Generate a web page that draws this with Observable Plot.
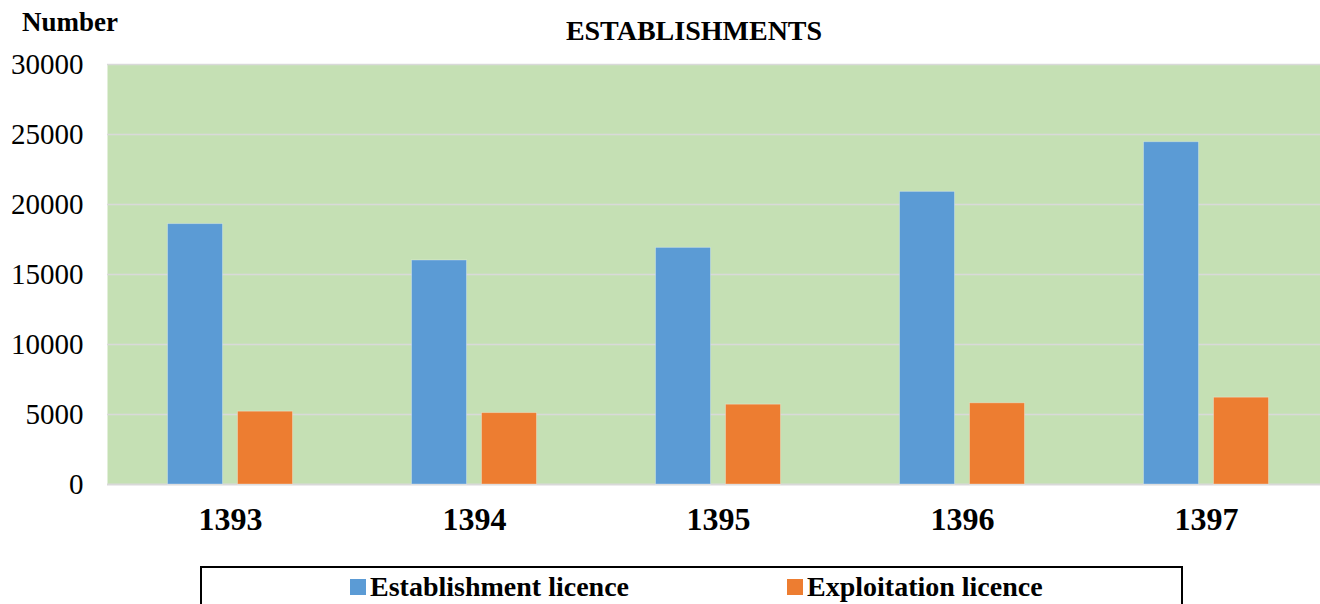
<!DOCTYPE html>
<html>
<head>
<meta charset="utf-8">
<script src="https://cdn.jsdelivr.net/npm/d3@7"></script>
<script src="https://cdn.jsdelivr.net/npm/@observablehq/plot@0.6"></script>
<style>
  html, body { margin: 0; padding: 0; background: #fff; width: 1320px; height: 604px; overflow: hidden; }
  body { font-family: "Liberation Serif", "Times New Roman", serif; color: #000; }
  #header { position: relative; height: 44px; }
  #number { position: absolute; left: 22px; top: 9px; font-size: 27px; font-weight: bold; line-height: 1; }
  #title { position: absolute; left: 694px; top: 17px; transform: translateX(-50%); font-size: 28px; font-weight: bold; line-height: 1; white-space: nowrap; }
  #legend { position: absolute; left: 200px; top: 566px; width: 983px; height: 60px; border: 2px solid #000; box-sizing: border-box; }
  .item { position: absolute; top: 5px; display: flex; align-items: center; font-size: 28px; font-weight: bold; line-height: 1; white-space: nowrap; }
  .sw { width: 16px; height: 16px; margin-right: 4px; }
  #chart svg text { font-family: "Liberation Serif", "Times New Roman", serif; }
</style>
</head>
<body>
<div id="header"><div id="number">Number</div><div id="title">ESTABLISHMENTS</div></div>
<div id="chart"></div>
<div id="legend"></div>
<script>
const years = ["1393", "1394", "1395", "1396", "1397"];
const establishment = [18600, 16000, 16900, 20900, 24450];
const exploitation = [5200, 5100, 5700, 5800, 6200];
const seriesNames = ["Establishment licence", "Exploitation licence"];
const seriesColors = ["#5B9BD5", "#ED7D31"];
const yTicks = [0, 5000, 10000, 15000, 20000, 25000, 30000];

const estData = years.map((yr, i) => ({year: yr, series: seriesNames[0], value: establishment[i]}));
const expData = years.map((yr, i) => ({year: yr, series: seriesNames[1], value: exploitation[i]}));

const serif = "'Liberation Serif', 'Times New Roman', serif";

const chart = Plot.plot({
  width: 1320,
  height: 516,
  marginLeft: 107,
  marginRight: -8,
  marginTop: 20,
  marginBottom: 76,
  style: {fontFamily: serif, background: "transparent", color: "#000", overflow: "visible"},
  x: {domain: years, padding: 0, label: null},
  y: {domain: [0, 30000], label: null},
  color: {domain: seriesNames, range: seriesColors},
  marks: [
    Plot.frame({fill: "#C5E0B4", stroke: null}),
    Plot.ruleY(yTicks.filter(d => d > 0), {stroke: "#D9D9D9", strokeWidth: 1.5}),
    Plot.ruleY([0], {stroke: "#D9D9D9", strokeWidth: 2}),
    Plot.barY(estData, {x: "year", y: "value", fill: "series", insetLeft: 59.5, insetRight: 129.5, stroke: "#ffffff", strokeOpacity: 0.3, strokeWidth: 1}),
    Plot.barY(expData, {x: "year", y: "value", fill: "series", insetLeft: 129.5, insetRight: 59.5, stroke: "#ffffff", strokeOpacity: 0.3, strokeWidth: 1}),
    Plot.axisY({ticks: yTicks, tickSize: 0, tickPadding: 24, tickFormat: d => String(d), fontSize: 29, fontFamily: serif, label: null}),
    Plot.axisX({tickSize: 0, tickPadding: 23, fontSize: 32, fontWeight: "bold", fontFamily: serif, label: null})
  ]
});
document.getElementById("chart").appendChild(chart);

const legend = document.getElementById("legend");
const legendLeft = [148, 585];
seriesNames.forEach((name, i) => {
  const item = document.createElement("div");
  item.className = "item";
  item.style.left = legendLeft[i] + "px";
  const sw = document.createElement("span");
  sw.className = "sw";
  sw.style.background = seriesColors[i];
  const label = document.createElement("span");
  label.textContent = name;
  item.appendChild(sw);
  item.appendChild(label);
  legend.appendChild(item);
});
</script>
</body>
</html>
